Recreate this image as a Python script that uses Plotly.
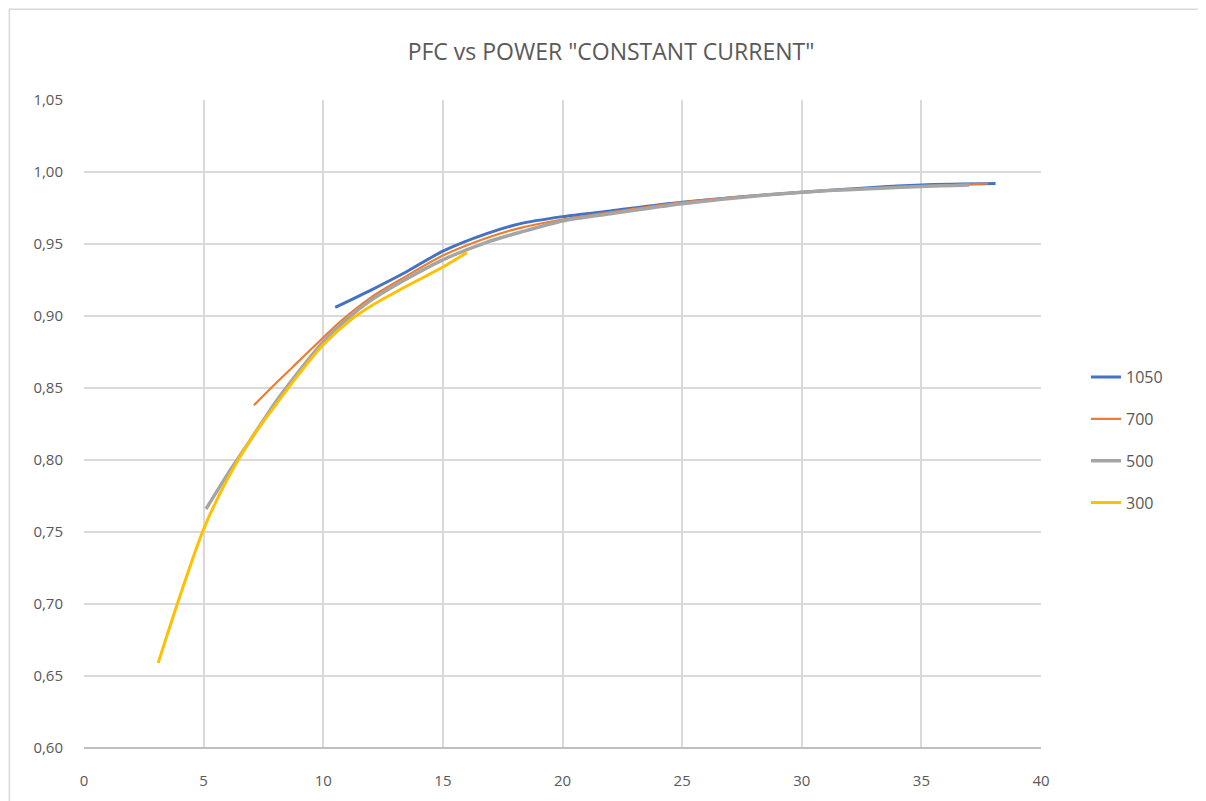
"""PFC vs power at constant current, Excel-style line chart."""

import plotly.graph_objects as go

# power (W) and power factor readings per drive current (mA)
p_1050 = [10.5, 12.0, 13.4, 15.0, 16.8, 18.2, 20.0, 22.0, 25.0, 30.0, 35.0, 38.1]
pfc_1050 = [0.906, 0.918, 0.930, 0.945, 0.957, 0.964, 0.969, 0.973, 0.979, 0.986, 0.991, 0.992]

p_700 = [7.1, 8.0, 9.0, 10.0, 10.7, 12.0, 13.4, 15.0, 16.8, 18.2, 20.0, 22.0, 25.0, 30.0, 35.0, 37.8]
pfc_700 = [0.838, 0.853, 0.869, 0.885, 0.896, 0.913, 0.927, 0.942, 0.954, 0.961, 0.967, 0.972, 0.979, 0.986, 0.990, 0.992]

p_500 = [5.1, 6.0, 7.0, 8.0, 9.0, 10.0, 11.0, 12.0, 13.4, 15.0, 16.8, 18.2, 20.0, 22.0, 25.0, 30.0, 35.0, 37.0]
pfc_500 = [0.766, 0.790, 0.815, 0.840, 0.862, 0.882, 0.898, 0.911, 0.925, 0.939, 0.951, 0.958, 0.966, 0.971, 0.978, 0.986, 0.990, 0.991]

p_300 = [3.1, 4.0, 5.0, 6.0, 7.0, 8.0, 9.0, 10.0, 11.2, 12.0, 13.4, 15.0, 16.0]
pfc_300 = [0.659, 0.705, 0.752, 0.787, 0.815, 0.838, 0.860, 0.880, 0.898, 0.907, 0.920, 0.934, 0.944]

series = [
    ("1050", p_1050, pfc_1050, "#4472C4", 3),
    ("700", p_700, pfc_700, "#ED7D31", 2.2),
    ("500", p_500, pfc_500, "#A5A5A5", 3.5),
    ("300", p_300, pfc_300, "#FFC000", 3),
]

FONT = "Open Sans, sans-serif"
TEXT = "#595959"

fig = go.Figure()
for name, x, y, color, width in series:
    fig.add_trace(go.Scatter(
        x=x, y=y, name=name, mode="lines", legendgroup=name,
        line=dict(color=color, width=width, shape="spline", smoothing=0.8),
    ))

# page body has an 8px margin, so the figure is offset by 8px right and down
fig.update_layout(
    width=1206,
    height=801,
    margin=dict(l=76, r=173, t=92, b=61),
    paper_bgcolor="white",
    plot_bgcolor="white",
    separators=",.",
    font=dict(family=FONT, color=TEXT, size=15),
    title=dict(text='PFC vs POWER "CONSTANT CURRENT"', x=0.5, xanchor="center",
               y=0.945, yanchor="middle", font=dict(size=23, color=TEXT)),
    legend=dict(x=1.047, y=0.475, xanchor="left", yanchor="middle",
                tracegroupgap=18, font=dict(size=16, color=TEXT)),
    xaxis=dict(range=[0, 40], dtick=5, showgrid=True, gridcolor="#d9d9d9", gridwidth=2,
               zeroline=False, showline=False, ticks="", ticklabelstandoff=22),
    yaxis=dict(range=[0.60, 1.05], dtick=0.05, tickformat=".2f", showgrid=True,
               gridcolor="#d9d9d9", gridwidth=2, zeroline=False, showline=False,
               ticks="", ticklabelstandoff=20),
)

# darker baseline along the bottom of the plot and the chart-area border
fig.add_shape(type="line", xref="paper", yref="paper", x0=0, x1=1, y0=0, y1=0,
              line=dict(color="#bfbfbf", width=2))
fig.add_shape(type="rect", xref="paper", yref="paper", x0=-0.078, x1=1.3, y0=-0.2, y1=1.140,
              line=dict(color="#d9d9d9", width=1.5), layer="below")

fig.write_html("out.html")
